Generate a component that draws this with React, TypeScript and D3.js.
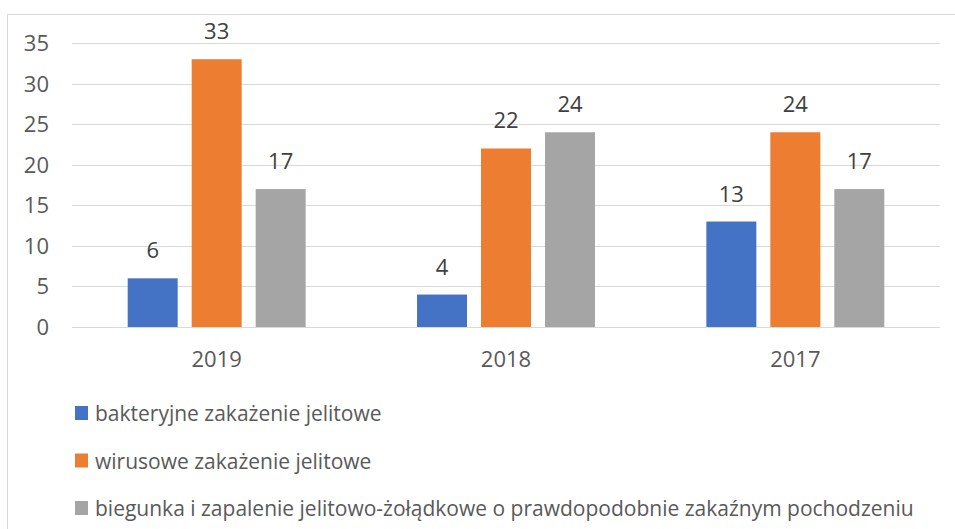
import React, { useEffect, useRef } from "react";
import * as d3 from "d3";

const categories = ["2019", "2018", "2017"];
const seriesNames = [
  "bakteryjne zakażenie jelitowe",
  "wirusowe zakażenie jelitowe",
  "biegunka i zapalenie jelitowo-żołądkowe o prawdopodobnie zakaźnym pochodzeniu",
];
const bakteryjne = [6, 4, 13];
const wirusowe = [33, 22, 24];
const biegunka = [17, 24, 17];
const yTicks = [0, 5, 10, 15, 20, 25, 30, 35];
const colors = ["#4472C4", "#ED7D31", "#A5A5A5"];

const W = 955;
const H = 529;
const FONT = "'Open Sans', 'Noto Sans', sans-serif";

export default function App() {
  const svgRef = useRef<SVGSVGElement>(null);

  useEffect(() => {
    if (!svgRef.current) return;
    const svg = d3.select(svgRef.current);
    svg.selectAll("*").remove();

    const series = [bakteryjne, wirusowe, biegunka];

    // Outer frame (top and left edges visible)
    svg
      .append("path")
      .attr("d", `M7.5,${H} L7.5,14.5 L${W},14.5`)
      .attr("fill", "none")
      .attr("stroke", "#d9d9d9")
      .attr("stroke-width", 1);

    const plot = { left: 72, right: 940, top: 43, bottom: 327 };

    const y = d3.scaleLinear().domain([0, 35]).range([plot.bottom, plot.top]);

    const x0 = d3
      .scaleBand<string>()
      .domain(categories)
      .range([plot.left, plot.right])
      .paddingInner(0.385)
      .paddingOuter(0.1925);

    const x1 = d3
      .scaleBand<number>()
      .domain([0, 1, 2])
      .range([0, x0.bandwidth()])
      .paddingInner(0.21875)
      .paddingOuter(0);

    // Gridlines
    svg
      .append("g")
      .selectAll("line")
      .data(yTicks)
      .enter()
      .append("line")
      .attr("x1", plot.left)
      .attr("x2", plot.right)
      .attr("y1", (d) => Math.round(y(d)) + 0.5)
      .attr("y2", (d) => Math.round(y(d)) + 0.5)
      .attr("stroke", "#d9d9d9")
      .attr("stroke-width", 1);

    // Y tick labels
    svg
      .append("g")
      .selectAll("text")
      .data(yTicks)
      .enter()
      .append("text")
      .attr("x", 49)
      .attr("y", (d) => y(d) + 8)
      .attr("text-anchor", "end")
      .attr("font-family", FONT)
      .attr("font-size", 22)
      .attr("fill", "#595959")
      .text((d) => d);

    // X labels
    svg
      .append("g")
      .selectAll("text")
      .data(categories)
      .enter()
      .append("text")
      .attr("x", (d) => (x0(d) as number) + x0.bandwidth() / 2)
      .attr("y", 367)
      .attr("text-anchor", "middle")
      .attr("font-family", FONT)
      .attr("font-size", 22)
      .attr("fill", "#595959")
      .text((d) => d);

    // Bars and value labels
    series.forEach((vals, si) => {
      const g = svg.append("g");
      g.selectAll("rect")
        .data(vals)
        .enter()
        .append("rect")
        .attr("x", (_, i) => (x0(categories[i]) as number) + (x1(si) as number))
        .attr("y", (d) => y(d))
        .attr("width", x1.bandwidth())
        .attr("height", (d) => y(0) - y(d))
        .attr("fill", colors[si]);

      g.selectAll("text")
        .data(vals)
        .enter()
        .append("text")
        .attr(
          "x",
          (_, i) =>
            (x0(categories[i]) as number) + (x1(si) as number) + x1.bandwidth() / 2
        )
        .attr("y", (d) => y(d) - 20)
        .attr("text-anchor", "middle")
        .attr("font-family", FONT)
        .attr("font-size", 22)
        .attr("fill", "#404040")
        .text((d) => d);
    });

    // Legend
    const legend = svg.append("g");
    const rowY = [413, 460.5, 508];
    seriesNames.forEach((name, i) => {
      legend
        .append("rect")
        .attr("x", 75)
        .attr("y", rowY[i] - 7)
        .attr("width", 13)
        .attr("height", 14)
        .attr("fill", colors[i]);
      legend
        .append("text")
        .attr("x", 95)
        .attr("y", rowY[i] + 8)
        .attr("font-family", FONT)
        .attr("font-size", 21)
        .attr("fill", "#595959")
        .text(name);
    });
  }, []);

  return (
    <svg
      ref={svgRef}
      width={W}
      height={H}
      style={{ position: "absolute", left: 0, top: 0, background: "#fff" }}
    />
  );
}
